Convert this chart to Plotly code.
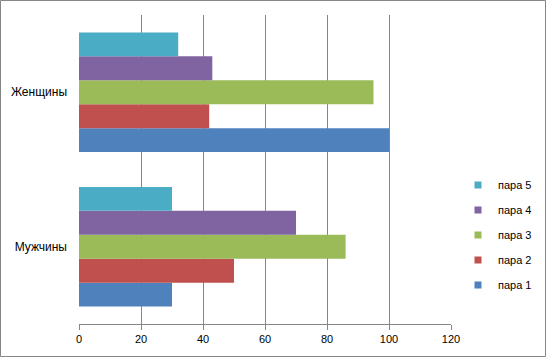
import plotly.graph_objects as go

categories = ["Мужчины", "Женщины"]
series_names = ["пара 1", "пара 2", "пара 3", "пара 4", "пара 5"]
values = {
    "пара 1": [30, 100],
    "пара 2": [50, 42],
    "пара 3": [86, 95],
    "пара 4": [70, 43],
    "пара 5": [30, 32],
}
colors = ["#4F81BD", "#C0504D", "#9BBB59", "#8064A2", "#4BACC6"]
x_ticks = [0, 20, 40, 60, 80, 100, 120]

W, H = 547, 359
L, R, T, B = 79, 96, 15, 35
pw, ph = W - L - R, H - T - B

def px(x):
    return (x - L) / pw

def py(y):
    return (H - B - y) / ph

fig = go.Figure()
for name, c in zip(series_names, colors):
    fig.add_trace(go.Bar(
        y=categories, x=values[name], name=name, orientation="h",
        marker=dict(color=c, line=dict(width=0)), showlegend=False,
    ))
# legend-only entries with small square swatches (top: пара 5)
for name, c in reversed(list(zip(series_names, colors))):
    fig.add_trace(go.Scatter(
        x=[None], y=[None], mode="markers", name=name,
        marker=dict(symbol="square", size=7, color=c), legendgroup=name,
    ))

fig.update_layout(
    width=W, height=H,
    margin=dict(l=L, r=R, t=T, b=B, autoexpand=False),
    barmode="group", bargap=0.225, bargroupgap=0,
    plot_bgcolor="white", paper_bgcolor="white",
    font=dict(family="Liberation Sans, Arial, sans-serif", size=11, color="#000000"),
    xaxis=dict(
        range=[0, 120], tickvals=x_ticks, showgrid=True, gridcolor="#868686",
        gridwidth=1, zeroline=False, showline=True, linecolor="#868686",
        ticks="outside", ticklen=5, tickcolor="#868686", fixedrange=True,
        automargin=False,
    ),
    yaxis=dict(
        showgrid=False, zeroline=False, showline=False, ticks="",
        fixedrange=True, automargin=False, ticklabelstandoff=11,
        tickfont=dict(size=12),
    ),
    legend=dict(
        x=px(458), y=py(235), xanchor="left", yanchor="middle",
        traceorder="grouped", tracegroupgap=6, itemwidth=30,
        font=dict(size=11), bgcolor="rgba(0,0,0,0)",
    ),
    shapes=[dict(
        type="rect", xref="paper", yref="paper",
        x0=px(0.5), x1=px(545.5), y0=py(356.5), y1=py(0.5),
        line=dict(color="#868686", width=1), fillcolor="rgba(0,0,0,0)", layer="below",
    )],
)

fig.write_html(
    "out.html",
    config={"displayModeBar": False},
    post_script="document.body.style.margin='0px';document.body.style.overflow='hidden';",
)
